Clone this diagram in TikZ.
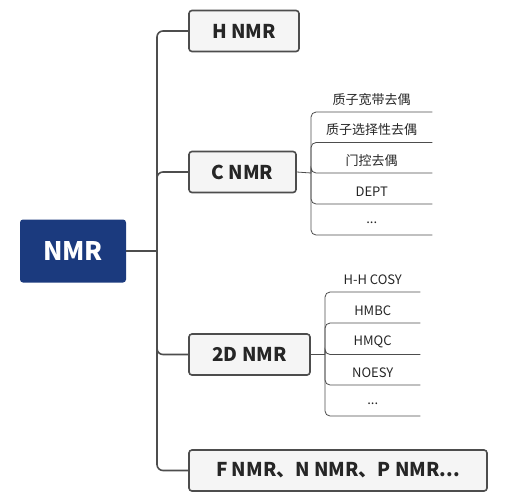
\documentclass[tikz,border=0pt]{standalone}
\usepackage{fontspec}
\setmainfont{Noto Sans CJK SC}
\usetikzlibrary{positioning}
\definecolor{rootblue}{HTML}{1B3A7E}
\definecolor{boxgray}{HTML}{F5F5F5}
\definecolor{linegray}{HTML}{4D4D4D}

\begin{document}
\begin{tikzpicture}[
  x=1pt, y=-1pt,
  root/.style={
    rectangle, fill=rootblue, rounded corners=3pt,
    minimum width=106pt, minimum height=63pt,
    text=white, font=\fontsize{25.5}{30}\selectfont\bfseries
  },
  topic/.style={
    rectangle, draw=linegray, line width=1.6pt, fill=boxgray,
    rounded corners=3pt, minimum height=41pt,
    font=\fontsize{19}{22}\selectfont\bfseries, text=black!85
  },
  citem/.style={item, minimum width=121pt},
  ditem/.style={item, minimum width=95pt},
  item/.style={
    anchor=south west, inner sep=0pt, minimum height=25pt,
    font=\fontsize{13}{15}\selectfont, text=black!85
  },
  trunk/.style={draw=linegray, line width=1.6pt, rounded corners=6pt},
  twig/.style={draw=linegray, line width=0.8pt, rounded corners=5pt},
]
\useasboundingbox (0,0) rectangle (527,499);

% ---- Root and main branches ----
\node[root] (nmr) at (73,251) {NMR};
\node[topic, minimum width=110pt] (hnmr) at (244,31) {H NMR};
\node[topic, minimum width=107pt] (cnmr) at (242.5,172) {C NMR};
\node[topic, minimum width=121pt] (dnmr) at (249.5,354.5) {2D NMR};
\node[topic, minimum width=298pt] (xnmr) at (338,470.5) {F NMR、N NMR、P NMR...};

\coordinate (tr) at (157,251);
\draw[trunk] (nmr.east) -- (tr);
\draw[trunk] (tr) |- (hnmr.west);
\draw[trunk] (tr) |- (cnmr.west);
\draw[trunk] (tr) |- (dnmr.west);
\draw[trunk] (tr) |- (xnmr.west);

% ---- C NMR items ----
\node[citem] (c1) at (311,112) {质子宽带去偶};
\node[citem] (c2) at (311,142.5) {质子选择性去偶};
\node[citem] (c3) at (311,173) {门控去偶};
\node[citem] (c4) at (311,204) {DEPT};
\node[citem] (c5) at (311,235) {...};

\coordinate (cj) at (311,173);
\draw[twig] (cnmr.east) -- (cj);
\foreach \i in {1,...,5}
  \draw[twig] (cj) |- (c\i.south east);

% ---- 2D NMR items ----
\node[ditem] (d1) at (325,292) {H-H COSY};
\node[ditem] (d2) at (325,323) {HMBC};
\node[ditem] (d3) at (325,354.5) {HMQC};
\node[ditem] (d4) at (325,385) {NOESY};
\node[ditem] (d5) at (325,416) {...};

\coordinate (dj) at (325,354.5);
\draw[twig] (dnmr.east) -- (dj);
\foreach \i in {1,...,5}
  \draw[twig] (dj) |- (d\i.south east);

\end{tikzpicture}
\end{document}
